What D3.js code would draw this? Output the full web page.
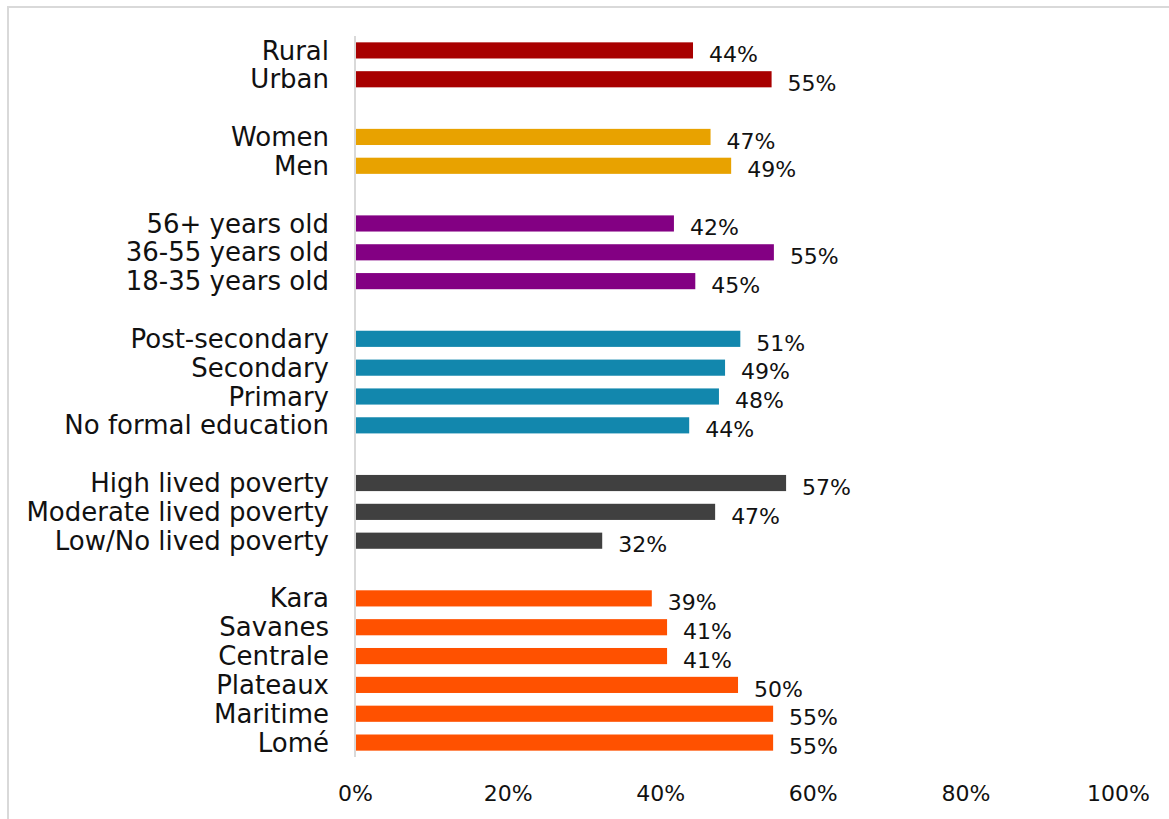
<!DOCTYPE html>
<html>
<head>
<meta charset="utf-8">
<script src="https://cdn.jsdelivr.net/npm/d3@7"></script>
<style>
  body { margin: 0; background: #fff; }
  text { font-family: "DejaVu Sans", sans-serif; fill: #111; }
</style>
</head>
<body>
<div id="chart"></div>
<script>
// categories top to bottom, "" rows are spacers between groups
const categories = [
    "Rural", "Urban", "",
    "Women", "Men", "",
    "56+ years old", "36-55 years old", "18-35 years old", "",
    "Post-secondary", "Secondary", "Primary", "No formal education", "",
    "High lived poverty", "Moderate lived poverty", "Low/No lived poverty", "",
    "Kara", "Savanes", "Centrale", "Plateaux", "Maritime", "Lomé"
];
const values = [
    44.3, 54.6, null,
    46.6, 49.3, null,
    41.8, 54.9, 44.6, null,
    50.5, 48.5, 47.7, 43.8, null,
    56.5, 47.2, 32.4, null,
    38.9, 40.9, 40.9, 50.2, 54.8, 54.8
];
const groups = [
    "area", "area", null,
    "gender", "gender", null,
    "age", "age", "age", null,
    "edu", "edu", "edu", "edu", null,
    "pov", "pov", "pov", null,
    "region", "region", "region", "region", "region", "region"
];
const groupColors = {
    area: "#a80000", gender: "#e8a200", age: "#830083",
    edu: "#1287ad", pov: "#404040", region: "#ff5100"
};
const ticks = [0, 20, 40, 60, 80, 100];

function drawChart(containerId) {
    const width = 1169;
    const height = 819;
    const margin = { top: 36, right: 51, bottom: 62, left: 355 };

    const svg = d3.select(`#${containerId}`)
        .append("svg")
        .attr("width", width)
        .attr("height", height);

    // outer chart frame (only top and left edges show)
    svg.append("rect")
        .attr("x", 8).attr("y", 7)
        .attr("width", width + 20).attr("height", height + 20)
        .attr("fill", "none")
        .attr("stroke", "#d9d9d9")
        .attr("stroke-width", 2);

    const x = d3.scaleLinear()
        .domain([0, 100])
        .range([margin.left, width - margin.right]);

    const rows = categories.map((c, i) => ({ key: i, label: c, value: values[i], group: groups[i] }));

    const y = d3.scaleBand()
        .domain(rows.map(d => d.key))
        .range([margin.top, height - margin.bottom])
        .paddingInner(0.44)
        .paddingOuter(0.22);

    svg.selectAll("rect.bar")
        .data(rows.filter(d => d.value != null))
        .join("rect")
        .attr("class", "bar")
        .attr("x", x(0))
        .attr("y", d => y(d.key))
        .attr("width", d => x(d.value) - x(0))
        .attr("height", y.bandwidth())
        .attr("fill", d => groupColors[d.group]);

    // value labels
    svg.selectAll("text.val")
        .data(rows.filter(d => d.value != null))
        .join("text")
        .attr("class", "val")
        .attr("x", d => x(d.value) + 16)
        .attr("y", d => y(d.key) + y.bandwidth() / 2 + 4)
        .attr("dy", "0.35em")
        .style("font-size", "22px")
        .text(d => Math.round(d.value) + "%");

    // category labels
    svg.selectAll("text.cat")
        .data(rows.filter(d => d.label))
        .join("text")
        .attr("class", "cat")
        .attr("x", margin.left - 26)
        .attr("y", d => y(d.key) + y.bandwidth() / 2)
        .attr("dy", "0.35em")
        .attr("text-anchor", "end")
        .style("font-size", "26px")
        .text(d => d.label);

    // vertical axis line at 0
    svg.append("line")
        .attr("x1", x(0)).attr("x2", x(0))
        .attr("y1", margin.top).attr("y2", height - margin.bottom)
        .attr("stroke", "#d9d9d9")
        .attr("stroke-width", 2);

    // x axis tick labels
    const xAxis = svg.append("g")
        .attr("transform", `translate(0, ${height - margin.bottom})`)
        .call(d3.axisBottom(x).tickValues(ticks).tickFormat(d => d + "%").tickSize(0).tickPadding(28));
    xAxis.select(".domain").remove();
    xAxis.selectAll("text")
        .style("font-size", "22px")
        .style("font-family", "DejaVu Sans, sans-serif")
        .attr("fill", "#111");
}

drawChart("chart");
</script>
</body>
</html>
